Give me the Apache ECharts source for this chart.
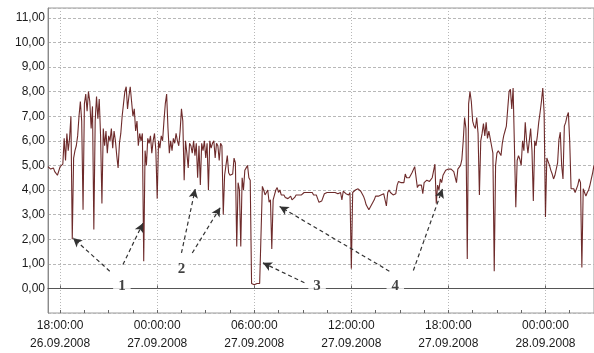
<!DOCTYPE html>
<html>
<head>
<meta charset="utf-8">
<script src="https://cdn.jsdelivr.net/npm/echarts@6/dist/echarts.min.js"></script>
<style>
html, body { margin: 0; padding: 0; background: #fff; }
#chart { width: 594px; height: 353px; }
</style>
</head>
<body>
<div id="chart"></div>
<script>
// readings every 5 minutes, first one at 26.09.2008 17:15
const startTime = new Date(2008, 8, 26, 17, 15).getTime()
const stepMinutes = 5

// 26.09 17:15 - 23:55
const values26 = [
    4.95, 4.9, 4.85, 4.8, 4.9, 4.75, 4.7, 4.6, 4.55,
    4.95, 5.0, 5.05, 6.1, 5.2, 6.3, 5.6, 6.1, 7.0, 2.0, 5.3, 5.6,
    5.8, 6.2, 7.0, 7.6, 6.8, 3.2, 7.5, 7.9, 7.2, 8.0, 7.6, 6.5,
    7.4, 2.4, 6.8, 7.8, 6.9, 7.7, 6.2, 3.45, 6.5, 5.8, 6.4, 5.5,
    6.2, 6.0, 6.5, 5.7, 6.4, 6.0, 5.4, 4.9, 5.9, 6.3, 7.0, 7.5,
    8.0, 8.2, 7.3, 7.8, 8.2, 7.6, 7.0, 7.3, 6.4, 6.8, 5.8, 6.3,
    6.0, 6.3, 1.1, 5.6, 5.0, 6.1, 5.9, 6.2, 5.5, 6.0, 6.3, 5.6
]
// 27.09 00:00 - 23:55
const values27 = [
    3.65, 6.0, 5.7, 6.2, 6.0, 6.8, 7.5, 7.9, 6.5, 5.5, 6.0, 5.6,
    6.1, 5.9, 6.3, 6.0, 5.8, 6.4, 7.3, 6.8, 4.4, 6.0, 5.5, 4.9,
    5.9, 5.8, 5.5, 6.0, 5.4, 5.9, 4.5, 5.8, 4.2, 5.9, 5.6, 6.0,
    5.3, 5.9, 4.0, 6.0, 5.7, 5.9, 6.0, 5.3, 5.9, 5.8, 5.2, 5.9,
    5.8, 3.0, 4.6, 5.0, 5.4, 4.7, 4.6, 4.6, 4.65, 5.3, 5.1, 1.7,
    4.3, 4.0, 1.7, 4.5, 4.0, 4.8, 4.9, 5.0, 4.5, 4.4, 0.2, 0.15,
    0.15, 0.15, 0.2, 0.15, 0.2, 0.2, 4.15, 4.0, 3.8, 3.9, 4.0, 3.5,
    3.6, 1.6, 3.6, 3.8, 4.0, 4.1, 3.9, 4.0, 3.8, 3.75, 3.8, 3.7,
    3.7, 3.65, 3.7, 3.75, 3.6, 3.65, 3.7, 3.8, 3.75, 3.8, 3.85, 3.8,
    3.85, 3.9, 3.85, 3.9, 3.95, 3.9, 3.85, 3.9, 3.8, 3.85, 3.8, 3.75,
    3.5, 3.55, 3.55, 3.6, 3.85, 3.9, 3.9, 3.95, 3.9, 3.85, 3.9, 3.95,
    3.9, 3.95, 3.85, 3.9, 3.9, 3.6, 3.95, 3.9, 3.85, 3.9, 3.8, 3.9,
    0.8, 3.9, 3.95, 4.0, 3.95, 4.05, 4.0, 3.95, 3.85, 3.75, 3.6, 3.4,
    3.35, 3.2, 3.25, 3.4, 3.5, 3.6, 3.75, 3.7, 3.75, 3.7, 3.8, 3.8,
    3.85, 3.8, 3.35, 3.9, 4.0, 3.9, 3.85, 3.8, 3.8, 3.85, 4.2, 4.35,
    4.4, 4.3, 4.35, 4.3, 4.65, 4.5, 4.55, 4.5, 4.6, 4.7, 4.65, 4.95,
    4.9, 4.1, 4.2, 4.25, 4.2, 3.85, 4.3, 4.35, 4.4, 4.45, 4.35, 4.4,
    4.5, 4.55, 5.05, 3.45, 4.2, 4.0, 4.45, 4.3, 4.6, 4.65, 4.8, 4.75,
    4.85, 4.8, 4.85, 4.8, 4.75, 4.7, 4.3, 4.85, 4.9, 5.0, 5.25, 6.0,
    6.95, 6.5, 1.2, 7.5, 8.0, 7.6, 6.8, 6.6, 6.5, 6.95, 6.3, 3.8,
    6.0, 6.3, 6.7, 6.2, 6.75, 6.1, 6.4, 6.1, 5.8, 5.5, 0.7, 5.0,
    5.5, 5.6, 5.6, 5.4, 5.9, 6.2, 6.4, 6.6, 7.3, 8.0, 8.1, 7.3,
    8.15, 8.1, 3.3, 5.2, 5.4, 5.25, 5.0, 6.0, 5.6, 6.75, 6.0, 5.5,
    5.5, 6.5, 5.6, 3.55, 6.0, 5.8, 6.2, 6.75, 7.15, 7.6, 8.15, 7.15
]
// 28.09 00:00 - 03:00
const values28 = [
    2.9, 5.3, 5.25, 5.0, 4.8, 4.65, 4.45, 4.6, 4.85, 5.1, 6.05, 6.35,
    5.0, 4.45, 6.6, 6.75, 7.0, 7.15, 5.95, 4.05, 4.1, 4.05, 3.9, 3.9,
    4.2, 4.45, 4.3, 0.85, 4.05, 3.9, 3.75, 3.9, 4.0, 4.2, 4.45, 4.7,
    5.0
]

// x axis: labelled ticks every 6 h, small ticks every 1.5 h
const firstTick = new Date(2008, 8, 26, 18, 0).getTime()
const endTime = new Date(2008, 8, 28, 3, 0).getTime()
const majorStepHours = 6
const minorStepHours = 1.5

// arrows: [tail, head] as [day, hour, minute, value]
const arrows = [
    [[26, 21, 4, 0.70], [26, 18, 48, 2.05]],
    [[26, 21, 53, 0.97], [26, 23, 7, 2.65]],
    [[27, 1, 30, 1.44], [27, 2, 21, 4.04]],
    [[27, 2, 10, 1.44], [27, 3, 54, 3.29]],
    [[27, 9, 6, 0.23], [27, 6, 32, 1.04]],
    [[27, 14, 21, 0.70], [27, 7, 34, 3.33]],
    [[27, 15, 50, 0.73], [27, 17, 38, 4.04]]
]
const markNames = ['1', '2', '3', '4']
const markPlaces = [[26, 21, 49, 0.11], [27, 1, 30, 0.78], [27, 9, 53, 0.11], [27, 14, 43, 0.09]]

const toTime = (d, h, m) => new Date(2008, 8, d, h, m).getTime()
const pad = (n) => (n < 10 ? '0' : '') + n
const HOUR = 3600 * 1000

const allValues = values26.concat(values27, values28)
const seriesData = allValues.map((v, i) => [startTime + i * stepMinutes * 60000, v])

const majorTicks = []
for (let t = firstTick; t <= endTime; t += majorStepHours * HOUR) majorTicks.push(t)
const minorTicks = []
for (let t = firstTick; t <= endTime; t += minorStepHours * HOUR) minorTicks.push(t)

const chart = echarts.init(document.getElementById('chart'))
const labelFont = "'Liberation Sans', Arial, sans-serif"

const option = {
    animation: false,
    grid: {
        left: 48,
        right: 0,
        top: 8,
        bottom: 38,
        show: true,
        borderColor: '#9a9a9a',
        borderWidth: 1
    },
    xAxis: [
        {
            type: 'value',
            min: startTime,
            max: endTime,
            axisLine: { lineStyle: { color: '#555', width: 1 } },
            axisTick: { show: true, inside: true, length: 3, customValues: majorTicks, lineStyle: { color: '#666' } },
            splitLine: { show: true, lineStyle: { color: '#b8b8b8', type: [1, 2] } },
            axisLabel: {
                customValues: majorTicks,
                margin: 4,
                lineHeight: 18,
                fontSize: 12,
                fontFamily: labelFont,
                color: '#1a1a1a',
                formatter: function (value) {
                    const d = new Date(value)
                    return pad(d.getHours()) + ':' + pad(d.getMinutes()) + ':00\n' +
                        pad(d.getDate()) + '.' + pad(d.getMonth() + 1) + '.' + d.getFullYear()
                }
            }
        },
        {
            type: 'value',
            position: 'bottom',
            min: startTime,
            max: endTime,
            axisLine: { show: false },
            axisTick: { show: true, inside: true, length: 3, customValues: minorTicks, lineStyle: { color: '#666' } },
            splitLine: { show: false },
            axisLabel: { show: false }
        }
    ],
    yAxis: {
        type: 'value',
        min: -1,
        max: 11.4,
        interval: 1,
        axisLine: { show: true, lineStyle: { color: '#8a8a8a', width: 1 } },
        axisTick: { show: false },
        splitLine: { show: true, lineStyle: { color: '#b8b8b8', type: [3, 2] } },
        axisLabel: {
            margin: 3,
            fontSize: 12,
            fontFamily: labelFont,
            color: '#1a1a1a',
            formatter: function (v) {
                if (v < 0 || v > 11.01) return ''
                return v.toFixed(2).replace('.', ',')
            }
        }
    },
    series: [
        {
            type: 'line',
            data: seriesData,
            showSymbol: false,
            symbol: 'none',
            lineStyle: { color: '#5e1414', width: 1.1, opacity: 0.9 },
            z: 3
        },
        {
            type: 'line',
            data: [],
            silent: true,
            markLine: {
                silent: true,
                symbol: ['none', 'arrow'],
                symbolSize: [7, 9],
                label: { show: false },
                lineStyle: { color: '#333', width: 1.2, type: [4, 3] },
                data: arrows.map(a => [
                    { coord: [toTime(a[0][0], a[0][1], a[0][2]), a[0][3]] },
                    { coord: [toTime(a[1][0], a[1][1], a[1][2]), a[1][3]] }
                ])
            },
            z: 4
        },
        {
            type: 'scatter',
            silent: true,
            symbolSize: 1,
            itemStyle: { color: 'rgba(0,0,0,0)' },
            data: markNames.map((n, i) => {
                const p = markPlaces[i]
                return { name: n, value: [toTime(p[0], p[1], p[2]), p[3]] }
            }),
            label: {
                show: true,
                position: 'inside',
                formatter: '{b}',
                fontFamily: "'Liberation Serif', serif",
                fontWeight: 'bold',
                fontSize: 15,
                color: '#111',
                backgroundColor: '#fff',
                padding: [2, 5]
            },
            z: 5
        }
    ]
}
chart.setOption(option)
</script>
</body>
</html>
